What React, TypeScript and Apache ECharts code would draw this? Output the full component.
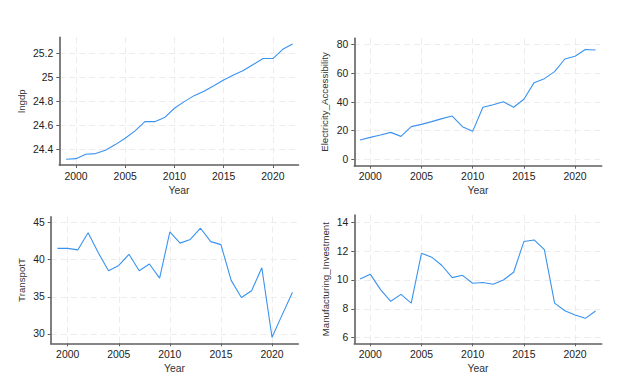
import React, { useEffect, useRef } from "react";
import * as echarts from "echarts";

const years = [1999,2000,2001,2002,2003,2004,2005,2006,2007,2008,2009,2010,2011,2012,2013,2014,2015,2016,2017,2018,2019,2020,2021,2022];
const lngdp = [24.317,24.322,24.358,24.364,24.392,24.439,24.492,24.553,24.63,24.63,24.664,24.742,24.797,24.847,24.883,24.93,24.978,25.019,25.056,25.106,25.156,25.156,25.233,25.278];
const electricity = [13.5,15.3,17.0,18.8,16.0,22.8,24.4,26.3,28.4,30.2,22.8,19.5,36.3,38.1,40.2,36.3,41.9,53.5,56.3,61.2,70.0,71.9,76.7,76.3];
const transport = [41.5,41.5,41.3,43.6,40.9,38.5,39.2,40.7,38.5,39.4,37.5,43.7,42.2,42.7,44.2,42.4,42.0,37.2,34.9,35.8,38.9,29.55,32.6,35.6];
const manufacturing = [10.07,10.4,9.33,8.52,9.0,8.39,11.85,11.58,11.0,10.16,10.32,9.77,9.82,9.7,10.0,10.53,12.66,12.77,12.1,8.39,7.87,7.57,7.34,7.85];

const xTicks = [2000, 2005, 2010, 2015, 2020];
const lngdpTicks = [24.4, 24.6, 24.8, 25, 25.2];
const elecTicks = [0, 20, 40, 60, 80];
const transTicks = [30, 35, 40, 45];
const manuTicks = [6, 8, 10, 12, 14];

const FONT = "Liberation Sans, Arial, sans-serif";
const AXIS_COLOR = "#5f5f5f";
const LINE_COLOR = "#3a93f0";
const GRID_COLOR = "#ececec";

type Panel = {
  name: string;
  data: number[];
  ticks: number[];
  yMin: number;
  yMax: number;
  xMin: number;
  xMax: number;
  left: number;
  right: number;
  top: number;
  bottom: number;
  nameGap: number;
  fmt?: (v: number) => string;
};

const panels: Panel[] = [
  { name: "lngdp", data: lngdp, ticks: lngdpTicks, yMin: 24.269, yMax: 25.333, xMin: 1998.31, xMax: 2022.6, left: 59.3, right: 298.5, top: 37.3, bottom: 165, nameGap: 33, fmt: (v) => String(Math.round(v * 10) / 10) },
  { name: "Electricity_Accessibility", data: electricity, ticks: elecTicks, yMin: -4.47, yMax: 84.47, xMin: 1998.44, xMax: 2022.6, left: 354.3, right: 601.7, top: 38.3, bottom: 165.7, nameGap: 25 },
  { name: "TranspotT", data: transport, ticks: transTicks, yMin: 28.75, yMax: 45.75, xMin: 1998.34, xMax: 2022.57, left: 50.7, right: 298.3, top: 216.7, bottom: 343.3, nameGap: 24 },
  { name: "Manufacturing_Investment", data: manufacturing, ticks: manuTicks, yMin: 5.61, yMax: 14.5, xMin: 1998.44, xMax: 2022.6, left: 354.3, right: 601.7, top: 215, bottom: 343.3, nameGap: 24 },
];

export default function App() {
  const ref = useRef<HTMLDivElement>(null);
  useEffect(() => {
    if (!ref.current) return;
    const chart = echarts.init(ref.current, undefined, { renderer: "svg" });
    const grid = panels.map((p) => ({
      left: p.left,
      top: p.top,
      width: p.right - p.left,
      height: p.bottom - p.top,
      containLabel: false,
      outerBoundsMode: "none",
    }));
    const xAxis = panels.map((p, i) => ({
      type: "value",
      gridIndex: i,
      min: p.xMin,
      max: p.xMax,
      name: "Year",
      nameLocation: "middle",
      nameGap: 20,
      nameTextStyle: { fontFamily: FONT, fontSize: 10.4, color: "#333" },
      axisLine: { show: true, onZero: false, lineStyle: { color: AXIS_COLOR, width: 1.6 } },
      axisTick: { show: true, length: 3, customValues: xTicks, lineStyle: { color: AXIS_COLOR, width: 1 } },
      axisLabel: { customValues: xTicks, margin: 6, fontFamily: FONT, fontSize: 10.4, color: "#222", formatter: (v: number) => String(v) },
      splitLine: { show: true, lineStyle: { color: GRID_COLOR, type: [6, 4], width: 1 } },
    }));
    const yAxis = panels.map((p, i) => ({
      type: "value",
      gridIndex: i,
      min: p.yMin,
      max: p.yMax,
      name: p.name,
      nameLocation: "middle",
      nameGap: p.nameGap,
      nameRotate: 90,
      nameTextStyle: { fontFamily: FONT, fontSize: 9.7, color: "#333" },
      axisLine: { show: true, onZero: false, lineStyle: { color: AXIS_COLOR, width: 1.6 } },
      axisTick: { show: true, length: 3, customValues: p.ticks, lineStyle: { color: AXIS_COLOR, width: 1 } },
      axisLabel: { customValues: p.ticks, margin: 6, fontFamily: FONT, fontSize: 10.4, color: "#222", formatter: p.fmt ? p.fmt : (v: number) => String(v) },
      splitLine: { show: true, lineStyle: { color: GRID_COLOR, type: [6, 4], width: 1 } },
    }));
    const series = panels.map((p, i) => ({
      type: "line",
      xAxisIndex: i,
      yAxisIndex: i,
      data: years.map((y, k) => [y, p.data[k]]),
      showSymbol: false,
      symbol: "none",
      lineStyle: { color: LINE_COLOR, width: 1.1 },
      itemStyle: { color: LINE_COLOR },
    }));
    chart.setOption({
      animation: false,
      backgroundColor: "#ffffff",
      grid,
      xAxis,
      yAxis,
      series,
    } as any);
    return () => chart.dispose();
  }, []);
  return <div ref={ref} style={{ position: "absolute", left: 0, top: 0, width: 617, height: 380 }} />;
}
